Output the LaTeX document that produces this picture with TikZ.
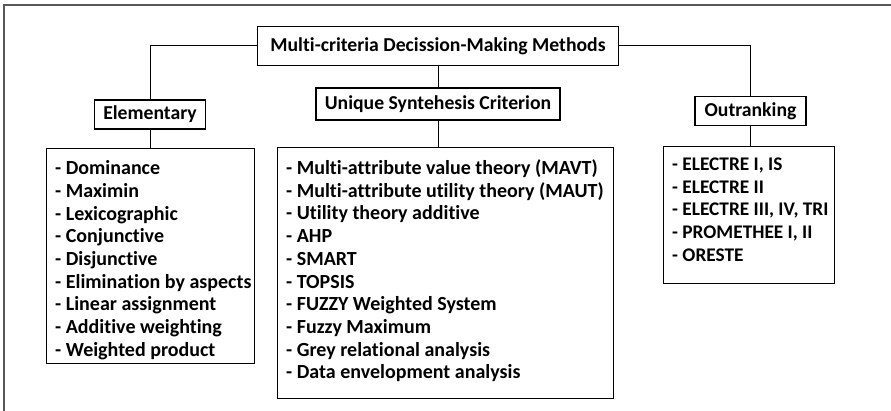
\documentclass[tikz,border=0pt]{standalone}
\usepackage{fontspec}
\setmainfont[Ligatures=CommonOff]{Carlito}
\usetikzlibrary{positioning}

\begin{document}
\begin{tikzpicture}[x=1pt, y=1pt,
  headbox/.style={draw, line width=1.1pt, inner sep=0pt, font=\fontsize{19.7}{22}\selectfont\bfseries},
  listbox/.style={draw, line width=1.1pt, inner sep=0pt, anchor=north west},
  listtext/.style={anchor=north west, inner sep=0pt, align=left, font=\fontsize{20}{22.7}\selectfont\bfseries},
  link/.style={line width=1pt}]
\useasboundingbox (0,0) rectangle (891,-411);
% frame of the page
\draw [black!65, line width=1.6pt] (4,-411) -- (4,-5) -- (891,-5);

% headings
\node [headbox, minimum width=361, minimum height=39] (mcdm) at (438,-46) {Multi-criteria Decission-Making Methods};
\node [headbox, minimum width=111, minimum height=29] (elem) at (150,-114.5) {Elementary};
\node [headbox, minimum width=244, minimum height=32] (usc) at (438,-104) {Unique Syntehesis Criterion};
\node [headbox, minimum width=111, minimum height=29] (outr) at (750.5,-111) {Outranking};

% lists
\node [listbox, minimum width=208, minimum height=215] (elemlist) at (46,-148) {};
\node [listtext, below right=12.5 and 9 of elemlist.north west] (elemtext) {%
  - Dominance\\ - Maximin\\ - Lexicographic\\ - Conjunctive\\ - Disjunctive\\
  - Elimination by aspects\\ - Linear assignment\\ - Additive weighting\\ - Weighted product};

\node [listbox, minimum width=336, minimum height=251] (usclist) at (277,-147) {};
\node [listtext, below right=12.5 and 9 of usclist.north west] (usctext) {%
  - Multi-attribute value theory (MAVT)\\ - Multi-attribute utility theory (MAUT)\\
  - Utility theory additive\\ - AHP\\ - SMART\\ - TOPSIS\\ - FUZZY Weighted System\\
  - Fuzzy Maximum\\ - Grey relational analysis\\ - Data envelopment analysis};

\node [listbox, minimum width=171, minimum height=137] (outrlist) at (663,-146) {};
\node [listtext, font=\fontsize{19.3}{22.7}\selectfont\bfseries,
  below right=11.5 and 9 of outrlist.north west] (outrtext) {%
  - ELECTRE I, IS\\ - ELECTRE II\\ - ELECTRE III, IV, TRI\\ - PROMETHEE I, II\\ - ORESTE};

% connectors
\draw [link] (mcdm.west) -| (elem.north);
\draw [link] (mcdm.east) -| (outr.north);
\draw [link] (mcdm.south) -- (usc.north);
\draw [link] (elem.south) -- (elem.south |- elemlist.north);
\draw [link] (usc.south) -- (usc.south |- usclist.north);
\draw [link] (outr.south) -- (outr.south |- outrlist.north);
\end{tikzpicture}
\end{document}
